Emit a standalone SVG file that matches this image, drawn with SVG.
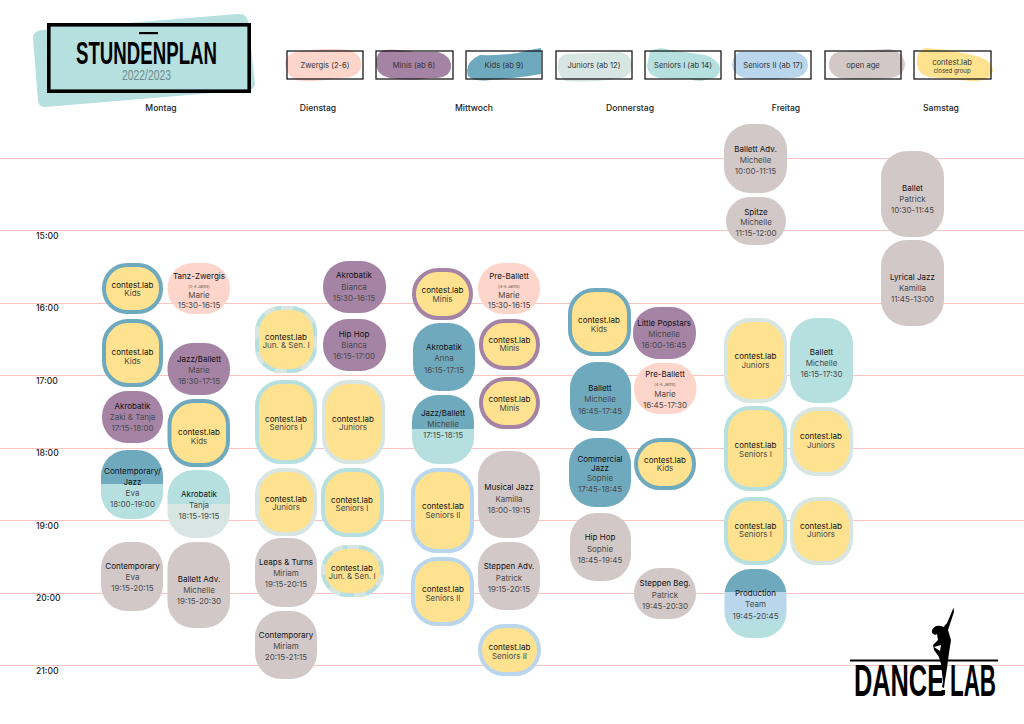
<svg xmlns="http://www.w3.org/2000/svg" width="1024" height="724" viewBox="0 0 1024 724">
<style>
text{font-family:"Inter","Liberation Sans",sans-serif;text-anchor:middle;fill:#222;font-size:8px}
.tt{fill:#111}
.st{fill:#4a4a4a}
.sm{font-size:4px;fill:#555}
.day{font-size:8.6px;font-weight:500;fill:#222}
.hr{font-size:8.6px;font-weight:500;fill:#222;text-anchor:start}
.lg{font-size:7.6px;fill:#333}
.logo{font-family:"Liberation Sans",sans-serif;font-weight:700;fill:#000;font-size:44px}
.ttl{font-family:"Liberation Sans",sans-serif;font-weight:700;fill:#000;font-size:32px}
.yr{font-family:"Liberation Sans",sans-serif;fill:#6f8a8c;font-size:14px}
.cg{font-size:6px;fill:#333}
.grid line{stroke:#fbc4c0;stroke-width:1}
.box{fill:none;stroke:#1a1a1a;stroke-width:1.3}
.zw{fill:#fdd5cb}.mi{fill:#a583a5}.ki{fill:#6fa9be}.ju{fill:#d8e6e3}.s1{fill:#b5e0df}.s2{fill:#b9d6ec}.op{fill:#d2c8c8}.ye{fill:#fee28f}
.c{fill:#fee28f;stroke-width:4}
.cki{stroke:#6fa9be}.cmi{stroke:#a583a5}.cju{stroke:#d8e6e3}.cs1{stroke:#b5e0df}.cs2{stroke:#b9d6ec}
.dash{fill:none;stroke:#d8e6e3;stroke-width:4;stroke-dasharray:12 14}
</style>
<defs>
<linearGradient id="kis1" x1="0" y1="0" x2="0" y2="1"><stop offset="0.49" stop-color="#6fa9be"/><stop offset="0.49" stop-color="#b5e0df"/></linearGradient>
<linearGradient id="s1ju" x1="0" y1="0" x2="0" y2="1"><stop offset="0.5" stop-color="#b5e0df"/><stop offset="0.5" stop-color="#d8e6e3"/></linearGradient>
<linearGradient id="prod" x1="0" y1="0" x2="0" y2="1"><stop offset="0.33" stop-color="#6fa9be"/><stop offset="0.33" stop-color="#b9d6ec"/><stop offset="0.6" stop-color="#b9d6ec"/><stop offset="0.85" stop-color="#b5e0df"/></linearGradient>
</defs>
<rect width="1024" height="724" fill="#fff"/>
<g class="grid" id="grid">
<line x1="0" y1="158.500" x2="1024" y2="158.500"/><line x1="0" y1="230.500" x2="1024" y2="230.500"/><line x1="0" y1="303.500" x2="1024" y2="303.500"/><line x1="0" y1="375.500" x2="1024" y2="375.500"/><line x1="0" y1="448.500" x2="1024" y2="448.500"/><line x1="0" y1="520.500" x2="1024" y2="520.500"/><line x1="0" y1="593.500" x2="1024" y2="593.500"/><line x1="0" y1="665.500" x2="1024" y2="665.500"/>
</g>
<g id="hours">
<text class="hr" x="36" y="239">15:00</text><text class="hr" x="36" y="311">16:00</text><text class="hr" x="36" y="384">17:00</text><text class="hr" x="36" y="456">18:00</text><text class="hr" x="36" y="529">19:00</text><text class="hr" x="36" y="601">20:00</text><text class="hr" x="36" y="674">21:00</text>
</g>
<g id="title">
<path d="M42 30L238 14Q246 13 248 21L255 83Q255 89 249 90L45 107Q39 107 38 101L33 38Q33 31 42 30Z" fill="#b5e0df"/>
<rect x="48.800" y="24.800" width="200.400" height="66.400" fill="#b5e0df" stroke="#000" stroke-width="3.600"/>
<rect x="139" y="32" width="19" height="2.200" fill="#000"/>
<text class="ttl" transform="translate(146.500 64) scale(.583 1)">STUNDENPLAN</text>
<text class="yr" transform="translate(146.500 80) scale(.74 1)">2022/2023</text>
</g>
<g id="legend-zwergis"><path class="zw" d="M295 52Q325 47 350 50Q363 55 361 68Q358 78 340 78Q310 83 296 80Q285 74 285 63Q286 55 295 52Z"/><rect class="box" x="287" y="51" width="76" height="28"/><text class="lg" x="325" y="68">Zwergis (2-6)</text></g>
<g id="legend-minis"><path class="mi" d="M384 50Q400 49 415 52L438 52Q452 56 451 68Q449 79 430 78Q410 81 390 78Q376 75 376 63Q376 52 384 50Z"/><rect class="box" x="376" y="51" width="77" height="28"/><text class="lg" x="414" y="68">Minis (ab 6)</text></g>
<g id="legend-kids"><path class="ki" d="M480 55Q510 56 530 50L541 48L541 74Q520 78 490 80Q475 82 468 76Q464 62 480 55Z"/><rect class="box" x="466" y="51" width="76" height="28"/><text class="lg" x="504" y="68">Kids (ab 9)</text></g>
<g id="legend-juniors"><path class="ju" d="M566 54L620 52Q633 56 632 66Q632 78 615 79Q590 83 565 81Q556 74 558 62Q559 56 566 54Z"/><rect class="box" x="556" y="51" width="76" height="28"/><text class="lg" x="594" y="68">Juniors (ab 12)</text></g>
<g id="legend-seniors1"><path class="s1" d="M650 51Q660 46 670 50L705 55Q720 60 720 70Q718 79 708 79Q700 83 690 79L660 78Q648 76 647 66Z"/><rect class="box" x="645" y="51" width="76" height="28"/><text class="lg" x="683" y="68">Seniors I (ab 14)</text></g>
<g id="legend-seniors2"><path class="s2" d="M740 52L795 52Q808 55 808 66Q806 78 790 78Q765 81 745 78Q732 74 732 65Q733 54 740 52Z"/><rect class="box" x="735" y="51" width="76" height="28"/><text class="lg" x="773" y="68">Seniors II (ab 17)</text></g>
<g id="legend-openage"><path class="op" d="M838 52L890 49Q903 52 905 63Q905 76 890 78Q865 81 840 78Q828 74 829 63Q830 54 838 52Z"/><rect class="box" x="825" y="51" width="76" height="28"/><text class="lg" x="863" y="68">open age</text></g>
<g id="legend-contest"><path class="ye" d="M925 48Q955 50 980 57Q993 62 993 71Q990 82 970 81L930 77Q917 75 917 62Q917 50 925 48Z"/><rect class="box" x="914" y="51" width="77" height="28"/><text class="lg" x="952" y="65">contest.lab</text><text class="cg" x="952" y="73">closed group</text></g>
<g id="days">
<text class="day" x="161" y="111">Montag</text><text class="day" x="318" y="111">Dienstag</text><text class="day" x="474" y="111">Mittwoch</text><text class="day" x="630" y="111">Donnerstag</text><text class="day" x="786" y="111">Freitag</text><text class="day" x="941" y="111">Samstag</text>
</g>
<g id="mo-contest-kids-1"><rect class="c cki" x="104" y="265" width="57" height="47" rx="23"/><text class="tt" x="132.500" y="288">contest.lab</text><text class="st" x="132.500" y="296">Kids</text></g>
<g id="mo-contest-kids-2"><rect class="c cki" x="104" y="321" width="57" height="64" rx="24"/><text class="tt" x="132.500" y="355">contest.lab</text><text class="st" x="132.500" y="364">Kids</text></g>
<g id="mo-akrobatik"><rect class="mi" x="102" y="391" width="61" height="52" rx="25"/><text class="tt" x="132.500" y="409">Akrobatik</text><text class="st" x="132.500" y="420">Zaki &amp; Tanja</text><text class="st" x="132.500" y="431">17:15-18:00</text></g>
<g id="mo-contemporary-jazz"><rect fill="url(#kis1)" x="101" y="450" width="62" height="69" rx="26"/><text class="tt" x="132.500" y="474">Contemporary/</text><text class="tt" x="132.500" y="485">Jazz</text><text class="st" x="132.500" y="496">Eva</text><text class="st" x="132.500" y="507">18:00-19:00</text></g>
<g id="mo-contemporary"><rect class="op" x="101" y="542" width="62" height="69" rx="26"/><text class="tt" x="132.500" y="569">Contemporary</text><text class="st" x="132.500" y="580">Eva</text><text class="st" x="132.500" y="591">19:15-20:15</text></g>
<g id="mo-tanz-zwergis"><rect class="zw" x="167.500" y="263" width="62.500" height="51" rx="25"/><text class="tt" x="199" y="279">Tanz-Zwergis</text><text class="sm" x="199" y="288">(2-4 Jahre)</text><text class="st" x="199" y="298">Marie</text><text class="st" x="199" y="308">15:30-16:15</text></g>
<g id="mo-jazz-ballett"><rect class="mi" x="167.500" y="343" width="62.500" height="52" rx="25"/><text class="tt" x="199" y="362">Jazz/Ballett</text><text class="st" x="199" y="373">Marie</text><text class="st" x="199" y="384">16:30-17:15</text></g>
<g id="mo-contest-kids-3"><rect class="c cki" x="169.500" y="401" width="58.500" height="64" rx="24"/><text class="tt" x="199" y="435">contest.lab</text><text class="st" x="199" y="444">Kids</text></g>
<g id="mo-akrobatik-tanja"><rect fill="url(#s1ju)" x="167.500" y="470" width="62.500" height="68" rx="26"/><text class="tt" x="199" y="497">Akrobatik</text><text class="st" x="199" y="508">Tanja</text><text class="st" x="199" y="519">18:15-19:15</text></g>
<g id="mo-ballett-adv"><rect class="op" x="167.500" y="542" width="62.500" height="86" rx="26"/><text class="tt" x="199" y="582">Ballett Adv.</text><text class="st" x="199" y="593">Michelle</text><text class="st" x="199" y="604">19:15-20:30</text></g>
<g id="di-contest-junsen-1"><rect class="c cs1" x="257" y="308" width="58" height="63" rx="24"/><rect class="dash" x="257" y="308" width="58" height="63" rx="24"/><text class="tt" x="286" y="340">contest.lab</text><text class="st" x="286" y="348">Jun. &amp; Sen. I</text></g>
<g id="di-contest-seniors1-1"><rect class="c cs1" x="257" y="382" width="58" height="80" rx="24"/><text class="tt" x="286" y="422">contest.lab</text><text class="st" x="286" y="430">Seniors I</text></g>
<g id="di-contest-juniors-1"><rect class="c cju" x="257" y="470" width="58" height="64" rx="24"/><text class="tt" x="286" y="502">contest.lab</text><text class="st" x="286" y="510">Juniors</text></g>
<g id="di-leaps"><rect class="op" x="255" y="538" width="62" height="69" rx="26"/><text class="tt" x="286" y="565">Leaps &amp; Turns</text><text class="st" x="286" y="576">Miriam</text><text class="st" x="286" y="587">19:15-20:15</text></g>
<g id="di-contemporary"><rect class="op" x="255" y="611" width="62" height="68" rx="26"/><text class="tt" x="286" y="638">Contemporary</text><text class="st" x="286" y="649">Miriam</text><text class="st" x="286" y="660">20:15-21:15</text></g>
<g id="di-akrobatik"><rect class="mi" x="323" y="261" width="63" height="52" rx="25"/><text class="tt" x="354" y="278">Akrobatik</text><text class="st" x="354" y="290">Bianca</text><text class="st" x="354" y="301">15:30-16:15</text></g>
<g id="di-hiphop"><rect class="mi" x="323" y="319" width="63" height="52" rx="25"/><text class="tt" x="354" y="337">Hip Hop</text><text class="st" x="354" y="348">Bianca</text><text class="st" x="354" y="359">16:15-17:00</text></g>
<g id="di-contest-juniors-2"><rect class="c cju" x="324" y="382" width="59" height="80" rx="24"/><text class="tt" x="353" y="422">contest.lab</text><text class="st" x="353" y="430">Juniors</text></g>
<g id="di-contest-seniors1-2"><rect class="c cs1" x="323" y="470" width="59" height="65" rx="24"/><text class="tt" x="352" y="503">contest.lab</text><text class="st" x="352" y="511">Seniors I</text></g>
<g id="di-contest-junsen-2"><rect class="c cs1" x="323" y="547" width="59" height="48" rx="24"/><rect class="dash" x="323" y="547" width="59" height="48" rx="24"/><text class="tt" x="352" y="571">contest.lab</text><text class="st" x="352" y="579">Jun. &amp; Sen. I</text></g>
<g id="mi-contest-minis-1"><rect class="c cmi" x="414" y="270" width="57" height="48" rx="24"/><text class="tt" x="442.500" y="293">contest.lab</text><text class="st" x="442.500" y="302">Minis</text></g>
<g id="mi-akrobatik"><rect class="ki" x="413" y="323" width="62" height="68" rx="26"/><text class="tt" x="444" y="350">Akrobatik</text><text class="st" x="444" y="361">Anna</text><text class="st" x="444" y="373">16:15-17:15</text></g>
<g id="mi-jazz-ballett"><rect fill="url(#kis1)" x="412" y="395" width="62" height="69" rx="26"/><text class="tt" x="443" y="416">Jazz/Ballett</text><text class="st" x="443" y="427">Michelle</text><text class="st" x="443" y="438">17:15-18:15</text></g>
<g id="mi-contest-seniors2-1"><rect class="c cs2" x="413" y="470" width="59" height="81" rx="24"/><text class="tt" x="443" y="509">contest.lab</text><text class="st" x="443" y="518">Seniors II</text></g>
<g id="mi-contest-seniors2-2"><rect class="c cs2" x="413" y="559" width="59" height="65" rx="24"/><text class="tt" x="443" y="592">contest.lab</text><text class="st" x="443" y="601">Seniors II</text></g>
<g id="mi-pre-ballett"><rect class="zw" x="478" y="263" width="62" height="51" rx="25"/><text class="tt" x="509" y="279">Pre-Ballett</text><text class="sm" x="509" y="288">(4-6 Jahre)</text><text class="st" x="509" y="298">Marie</text><text class="st" x="509" y="308">15:30-16:15</text></g>
<g id="mi-contest-minis-2"><rect class="c cmi" x="481" y="321" width="57" height="47" rx="23"/><text class="tt" x="509.500" y="343">contest.lab</text><text class="st" x="509.500" y="351">Minis</text></g>
<g id="mi-contest-minis-3"><rect class="c cmi" x="481" y="379" width="57" height="48" rx="24"/><text class="tt" x="509.500" y="402">contest.lab</text><text class="st" x="509.500" y="411">Minis</text></g>
<g id="mi-musical-jazz"><rect class="op" x="478" y="451" width="62" height="87" rx="26"/><text class="tt" x="509" y="490">Musical Jazz</text><text class="st" x="509" y="502">Kamilla</text><text class="st" x="509" y="513">18:00-19:15</text></g>
<g id="mi-steppen-adv"><rect class="op" x="478" y="542" width="62" height="68" rx="26"/><text class="tt" x="509" y="569">Steppen Adv.</text><text class="st" x="509" y="581">Patrick</text><text class="st" x="509" y="592">19:15-20:15</text></g>
<g id="mi-contest-seniors2-3"><rect class="c cs2" x="480" y="626" width="59" height="48" rx="24"/><text class="tt" x="509.500" y="650">contest.lab</text><text class="st" x="509.500" y="659">Seniors II</text></g>
<g id="do-contest-kids-1"><rect class="c cki" x="570" y="290" width="59" height="64" rx="24"/><text class="tt" x="599" y="323">contest.lab</text><text class="st" x="599" y="332">Kids</text></g>
<g id="do-ballett"><rect class="ki" x="570" y="362" width="61" height="69" rx="26"/><text class="tt" x="600" y="391">Ballett</text><text class="st" x="600" y="402">Michelle</text><text class="st" x="600" y="414">16:45-17:45</text></g>
<g id="do-commercial-jazz"><rect class="ki" x="569" y="438" width="62" height="69" rx="26"/><text class="tt" x="600" y="462">Commercial</text><text class="tt" x="600" y="471">Jazz</text><text class="st" x="600" y="481">Sophie</text><text class="st" x="600" y="492">17:45-18:45</text></g>
<g id="do-hiphop"><rect class="op" x="570" y="513" width="61" height="68" rx="26"/><text class="tt" x="600" y="540">Hip Hop</text><text class="st" x="600" y="552">Sophie</text><text class="st" x="600" y="563">18:45-19:45</text></g>
<g id="do-little-popstars"><rect class="mi" x="633" y="307" width="63" height="52" rx="25"/><text class="tt" x="664" y="326">Little Popstars</text><text class="st" x="664" y="337">Michelle</text><text class="st" x="664" y="348">16:00-16:45</text></g>
<g id="do-pre-ballett"><rect class="zw" x="634" y="363" width="62.500" height="51" rx="25"/><text class="tt" x="665" y="377">Pre-Ballett</text><text class="sm" x="665" y="386">(4-6 Jahre)</text><text class="st" x="665" y="397">Marie</text><text class="st" x="665" y="408">16:45-17:30</text></g>
<g id="do-contest-kids-2"><rect class="c cki" x="636" y="440" width="58" height="48" rx="24"/><text class="tt" x="665" y="463">contest.lab</text><text class="st" x="665" y="471">Kids</text></g>
<g id="do-steppen-beg"><rect class="op" x="634" y="568" width="62" height="51" rx="25"/><text class="tt" x="665" y="586">Steppen Beg.</text><text class="st" x="665" y="598">Patrick</text><text class="st" x="665" y="609">19:45-20:30</text></g>
<g id="fr-ballett-adv"><rect class="op" x="724" y="124" width="63" height="69" rx="26"/><text class="tt" x="755.500" y="152">Ballett Adv.</text><text class="st" x="755.500" y="163">Michelle</text><text class="st" x="755.500" y="174">10:00-11:15</text></g>
<g id="fr-spitze"><rect class="op" x="726" y="197" width="60" height="48" rx="24"/><text class="tt" x="756" y="215">Spitze</text><text class="st" x="756" y="225">Michelle</text><text class="st" x="756" y="236">11:15-12:00</text></g>
<g id="fr-contest-juniors-1"><rect class="c cju" x="726" y="320" width="59" height="81" rx="24"/><text class="tt" x="755.500" y="359">contest.lab</text><text class="st" x="755.500" y="368">Juniors</text></g>
<g id="fr-contest-seniors1-1"><rect class="c cs1" x="726" y="408" width="59" height="81" rx="24"/><text class="tt" x="755.500" y="448">contest.lab</text><text class="st" x="755.500" y="457">Seniors I</text></g>
<g id="fr-contest-seniors1-2"><rect class="c cs1" x="726" y="499" width="59" height="64" rx="24"/><text class="tt" x="755.500" y="529">contest.lab</text><text class="st" x="755.500" y="537">Seniors I</text></g>
<g id="fr-production"><rect fill="url(#prod)" x="724.500" y="569" width="62" height="69" rx="26"/><text class="tt" x="755.500" y="596">Production</text><text class="st" x="755.500" y="607">Team</text><text class="st" x="755.500" y="619">19:45-20:45</text></g>
<g id="fr-ballett"><rect class="s1" x="790" y="318" width="63" height="85" rx="26"/><text class="tt" x="821.500" y="355">Ballett</text><text class="st" x="821.500" y="366">Michelle</text><text class="st" x="821.500" y="377">16:15-17:30</text></g>
<g id="fr-contest-juniors-2"><rect class="c cju" x="792" y="409" width="59" height="65" rx="24"/><text class="tt" x="821" y="439">contest.lab</text><text class="st" x="821" y="448">Juniors</text></g>
<g id="fr-contest-juniors-3"><rect class="c cju" x="792" y="499" width="59" height="64" rx="24"/><text class="tt" x="821" y="529">contest.lab</text><text class="st" x="821" y="537">Juniors</text></g>
<g id="sa-ballet"><rect class="op" x="881" y="151" width="63" height="86" rx="26"/><text class="tt" x="912.500" y="191">Ballet</text><text class="st" x="912.500" y="202">Patrick</text><text class="st" x="912.500" y="213">10:30-11:45</text></g>
<g id="sa-lyrical-jazz"><rect class="op" x="881" y="240" width="63" height="86" rx="26"/><text class="tt" x="912.500" y="280">Lyrical Jazz</text><text class="st" x="912.500" y="291">Kamilla</text><text class="st" x="912.500" y="302">11:45-13:00</text></g>
<g id="logo">
<rect x="850" y="659.500" width="148" height="2" fill="#000"/>
<text class="logo" transform="translate(899 696) scale(.577 1)">DANCE</text>
<text class="logo" transform="translate(973 696) scale(.509 1)">LAB</text>
<path d="M953.500 607.500L950.500 615L947 623L943.500 627Q940 625 936 626Q931 629 932 633L935 635L937 634L938 640L933 645L934 650L939 657L941 664L943 682L942 687L944 688L945 680L947 668L949 653L951 640L948 630L951 621L954 612Z" fill="#000"/>
<path d="M934 647L941 645L940 651Z" fill="#fff"/>
<rect x="941.500" y="690" width="3.500" height="5" fill="#000"/>
</g>
</svg>
